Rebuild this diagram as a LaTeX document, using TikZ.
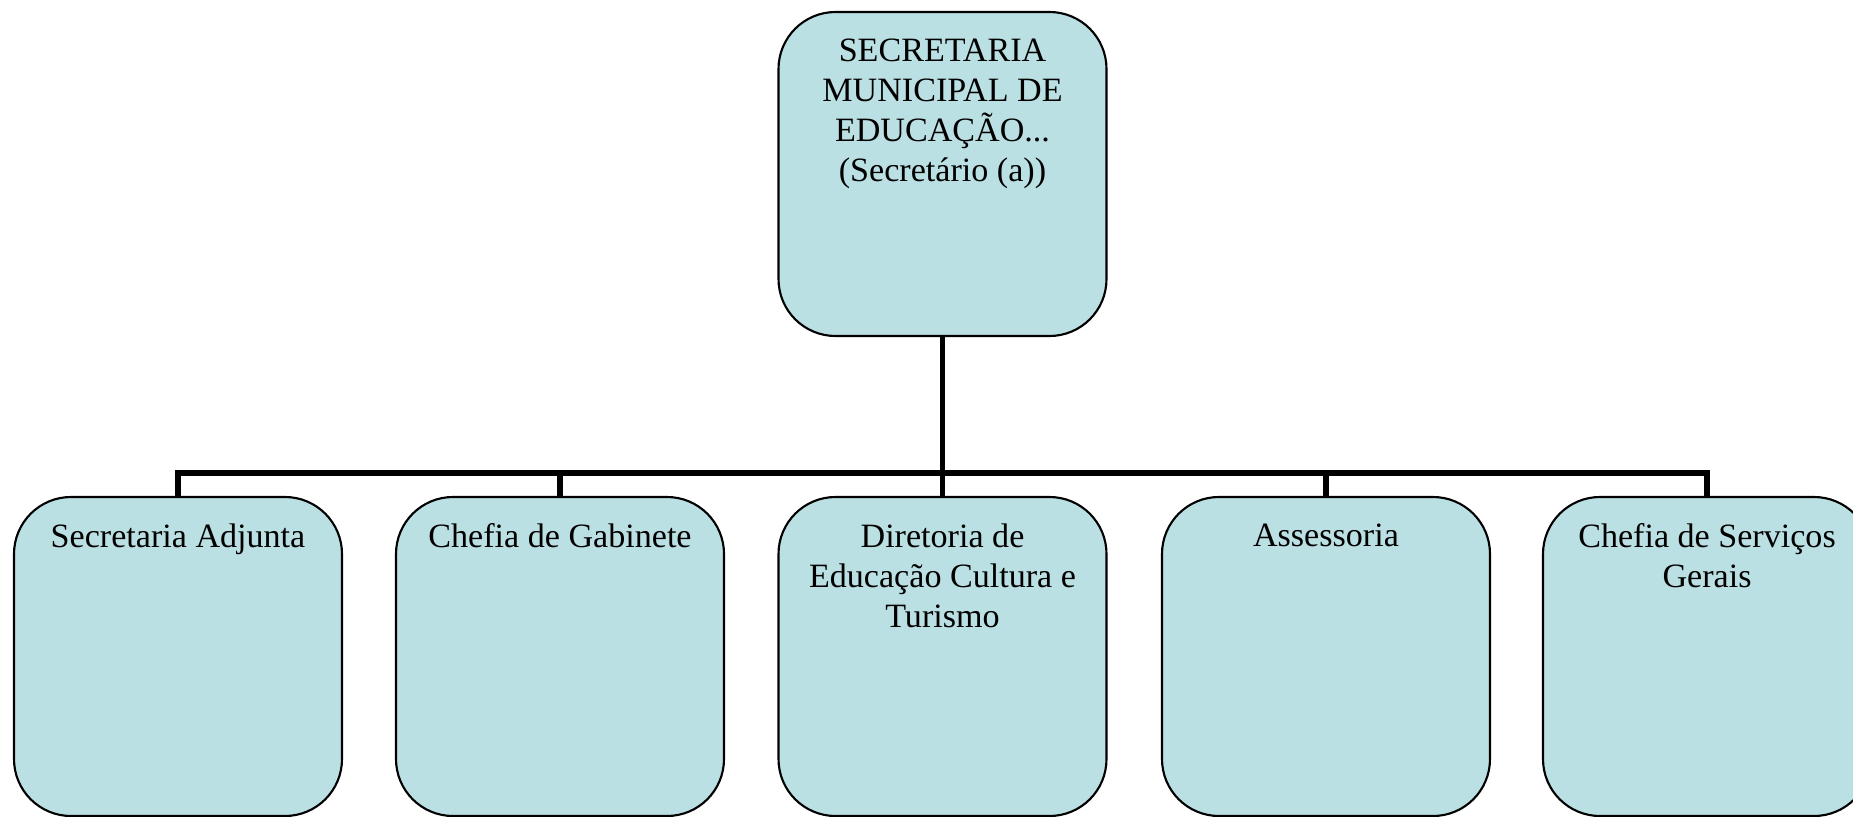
\documentclass[tikz,border=0pt]{standalone}
\usepackage{fontspec}
\setmainfont{Liberation Serif}
\usetikzlibrary{positioning}
\definecolor{unitfill}{RGB}{187,224,227}
\tikzset{
  unit/.style={draw=black, line width=0.6pt, fill=unitfill, rounded corners=0.57cm,
    minimum width=3.28cm, minimum height=3.19cm, inner sep=0pt},
  unitlabel/.style={align=center, inner sep=0pt, font=\fontsize{9.7}{11.4}\selectfont},
  link/.style={line width=1.7pt}
}
\begin{document}
\begin{tikzpicture}
    \useasboundingbox (0,0) rectangle (18.53,-8.17);
    \clip (0,0) rectangle (18.53,-8.17);

    % boxes
    \node[unit, minimum height=3.24cm] (sec) at (9.425,-1.74) {};
    \node[unit] (adj) at (1.78,-6.565) {};
    \node[unit] (gab) at (5.60,-6.565) {};
    \node[unit] (dir) at (9.425,-6.565) {};
    \node[unit] (ass) at (13.26,-6.565) {};
    \node[unit] (ser) at (17.07,-6.565) {};

    % connectors
    \coordinate (bus) at (9.425,-4.73);
    \foreach \u in {adj,gab,dir,ass,ser}
        \draw[link] (sec.south) |- (bus) -| (\u.north);

    % texts
    \node[unitlabel, below=0.27cm of sec.north] (sectxt) {SECRETARIA\\MUNICIPAL DE\\EDUCAÇÃO...\\(Secretário (a))};
    \node[unitlabel, below=0.27cm of adj.north] (adjtxt) {Secretaria Adjunta};
    \node[unitlabel, below=0.27cm of gab.north] (gabtxt) {Chefia de Gabinete};
    \node[unitlabel, below=0.27cm of dir.north] (dirtxt) {Diretoria de\\Educação Cultura e\\Turismo};
    \node[unitlabel, below=0.27cm of ass.north] (asstxt) {Assessoria};
    \node[unitlabel, below=0.27cm of ser.north] (sertxt) {Chefia de Serviços\\Gerais};
\end{tikzpicture}
\end{document}
